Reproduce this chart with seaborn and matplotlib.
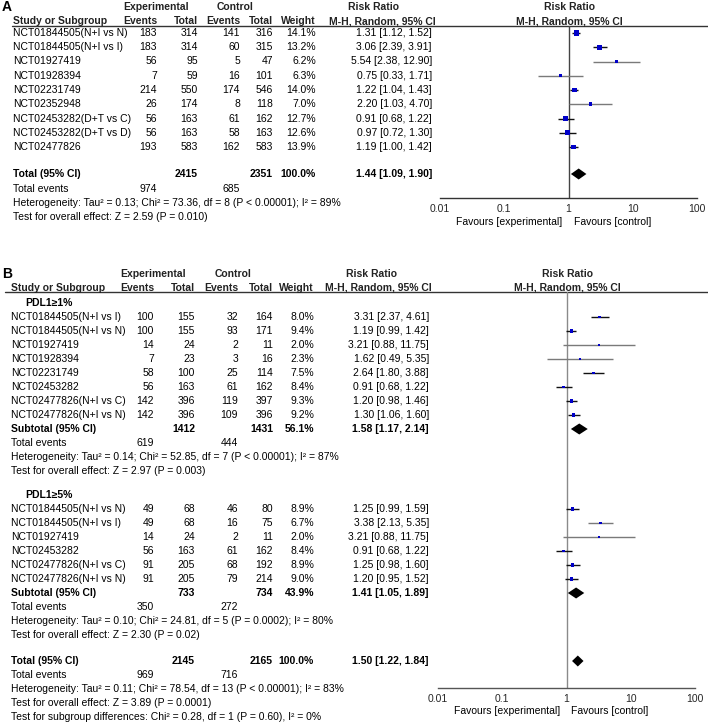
"""
Forest plots (risk ratio, M-H random effects) for two meta-analyses:
A = all patients, B = split by PD-L1 expression subgroup.
"""

import matplotlib
matplotlib.use("Agg")
import matplotlib.pyplot as plt
from matplotlib.ticker import NullLocator
import pandas as pd
import seaborn as sns

# ---------------- panel A data
a_study = ["NCT01844505(N+I vs N)", "NCT01844505(N+I vs I)", "NCT01927419",
           "NCT01928394", "NCT02231749", "NCT02352948",
           "NCT02453282(D+T vs C)", "NCT02453282(D+T vs D)", "NCT02477826"]
a_ev_e = [183, 183, 56, 7, 214, 26, 56, 56, 193]
a_tot_e = [314, 314, 95, 59, 550, 174, 163, 163, 583]
a_ev_c = [141, 60, 5, 16, 174, 8, 61, 58, 162]
a_tot_c = [316, 315, 47, 101, 546, 118, 162, 163, 583]
a_weight = [14.1, 13.2, 6.2, 6.3, 14.0, 7.0, 12.7, 12.6, 13.9]
a_rr = [1.31, 3.06, 5.54, 0.75, 1.22, 2.20, 0.91, 0.97, 1.19]
a_lo = [1.12, 2.39, 2.38, 0.33, 1.04, 1.03, 0.68, 0.72, 1.00]
a_hi = [1.52, 3.91, 12.90, 1.71, 1.43, 4.70, 1.22, 1.30, 1.42]
a_total = [2415, 2351, 100.0, 1.44, 1.09, 1.90]
a_events = [974, 685]
a_het = "Heterogeneity: Tau² = 0.13; Chi² = 73.36, df = 8 (P < 0.00001); I² = 89%"
a_test = "Test for overall effect: Z = 2.59 (P = 0.010)"

# ---------------- panel B data, PD-L1 >= 1%
b1_study = ["NCT01844505(N+I vs I)", "NCT01844505(N+I vs N)", "NCT01927419",
            "NCT01928394", "NCT02231749", "NCT02453282",
            "NCT02477826(N+I vs C)", "NCT02477826(N+I vs N)"]
b1_ev_e = [100, 100, 14, 7, 58, 56, 142, 142]
b1_tot_e = [155, 155, 24, 23, 100, 163, 396, 396]
b1_ev_c = [32, 93, 2, 3, 25, 61, 119, 109]
b1_tot_c = [164, 171, 11, 16, 114, 162, 397, 396]
b1_weight = [8.0, 9.4, 2.0, 2.3, 7.5, 8.4, 9.3, 9.2]
b1_rr = [3.31, 1.19, 3.21, 1.62, 2.64, 0.91, 1.20, 1.30]
b1_lo = [2.37, 0.99, 0.88, 0.49, 1.80, 0.68, 0.98, 1.06]
b1_hi = [4.61, 1.42, 11.75, 5.35, 3.88, 1.22, 1.46, 1.60]
b1_total = [1412, 1431, 56.1, 1.58, 1.17, 2.14]
b1_events = [619, 444]
b1_het = "Heterogeneity: Tau² = 0.14; Chi² = 52.85, df = 7 (P < 0.00001); I² = 87%"
b1_test = "Test for overall effect: Z = 2.97 (P = 0.003)"

# ---------------- panel B data, PD-L1 >= 5%
b5_study = ["NCT01844505(N+I vs N)", "NCT01844505(N+I vs I)", "NCT01927419",
            "NCT02453282", "NCT02477826(N+I vs C)", "NCT02477826(N+I vs N)"]
b5_ev_e = [49, 49, 14, 56, 91, 91]
b5_tot_e = [68, 68, 24, 163, 205, 205]
b5_ev_c = [46, 16, 2, 61, 68, 79]
b5_tot_c = [80, 75, 11, 162, 192, 214]
b5_weight = [8.9, 6.7, 2.0, 8.4, 8.9, 9.0]
b5_rr = [1.25, 3.38, 3.21, 0.91, 1.25, 1.20]
b5_lo = [0.99, 2.13, 0.88, 0.68, 0.98, 0.95]
b5_hi = [1.59, 5.35, 11.75, 1.22, 1.60, 1.52]
b5_total = [733, 734, 43.9, 1.41, 1.05, 1.89]
b5_events = [350, 272]
b5_het = "Heterogeneity: Tau² = 0.10; Chi² = 24.81, df = 5 (P = 0.0002); I² = 80%"
b5_test = "Test for overall effect: Z = 2.30 (P = 0.02)"

# ---------------- panel B overall
b_total = [2145, 2165, 100.0, 1.50, 1.22, 1.84]
b_events = [969, 716]
b_het = "Heterogeneity: Tau² = 0.11; Chi² = 78.54, df = 13 (P < 0.00001); I² = 83%"
b_test = "Test for overall effect: Z = 3.89 (P = 0.0001)"
b_subgroup = "Test for subgroup differences: Chi² = 0.28, df = 1 (P = 0.60), I² = 0%"

ticks = [0.01, 0.1, 1, 10, 100]
tick_labels = ["0.01", "0.1", "1", "10", "100"]

W, H = 708, 724
FS = 7.5
BLUE = "#0000c8"


def ci_text(rr, lo, hi):
    return f"{rr:.2f} [{lo:.2f}, {hi:.2f}]"


def put(tx, x, y, s, ha="left", bold=False, size=FS, color="black"):
    tx.text(x, y, s, ha=ha, va="center", fontsize=size, color=color,
            fontweight="bold" if bold else "normal")


def draw_header(tx, lay):
    """Two header lines plus the rule under them"""
    c = lay["cols"]
    y1, y2 = lay["h1"], lay["h2"]
    put(tx, lay["hx"][0], y1, "Experimental", ha="center", bold=True, color="#222")
    put(tx, lay["hx"][1], y1, "Control", ha="center", bold=True, color="#222")
    put(tx, lay["hx"][2], y1, "Risk Ratio", ha="center", bold=True, color="#222")
    put(tx, lay["hx"][4], y1, "Risk Ratio", ha="center", bold=True, color="#222")
    put(tx, lay["left"], y2, "Study or Subgroup", bold=True, color="#222")
    for x, s in zip(c[:5], ["Events", "Total", "Events", "Total", "Weight"]):
        put(tx, x, y2, s, ha="right", bold=True, color="#222")
    put(tx, lay["hx"][3], y2, "M-H, Random, 95% CI", ha="center", bold=True, color="#222")
    put(tx, lay["hx"][4], y2, "M-H, Random, 95% CI", ha="center", bold=True, color="#222")
    tx.plot([lay["rule_x0"], W], [lay["rule"], lay["rule"]], color="#333", lw=1.0)


def draw_studies(tx, ax, lay, ys, study, ev_e, tot_e, ev_c, tot_c, weight,
                 rr, lo, hi, smax, wmax):
    c = lay["cols"]
    for i, y in enumerate(ys):
        put(tx, lay["left"], y, study[i])
        put(tx, c[0], y, str(ev_e[i]), ha="right")
        put(tx, c[1], y, str(tot_e[i]), ha="right")
        put(tx, c[2], y, str(ev_c[i]), ha="right")
        put(tx, c[3], y, str(tot_c[i]), ha="right")
        put(tx, c[4], y, f"{weight[i]:.1f}%", ha="right")
        put(tx, c[5], y, ci_text(rr[i], lo[i], hi[i]), ha="right")
        col = "#7a7a7a" if weight[i] < 7.2 else "#111111"
        ax.hlines(y, lo[i], hi[i], color=col, lw=1.0, zorder=2)
    df = pd.DataFrame({"rr": rr, "y": ys, "w": weight})
    sns.scatterplot(data=df, x="rr", y="y", size="w", sizes=(0, smax),
                    size_norm=(0, wmax), marker="s", color=BLUE, linewidth=0,
                    legend=False, ax=ax, zorder=3)
    ax.set_xlabel("")
    ax.set_ylabel("")


def draw_pooled(tx, ax, lay, y, tot, label):
    c = lay["cols"]
    put(tx, lay["left"], y, label, bold=True)
    put(tx, c[1], y, str(tot[0]), ha="right", bold=True)
    put(tx, c[3], y, str(tot[1]), ha="right", bold=True)
    put(tx, c[4], y, f"{tot[2]:.1f}%", ha="right", bold=True)
    put(tx, c[5], y, ci_text(tot[3], tot[4], tot[5]), ha="right", bold=True)
    ax.fill([tot[4], tot[3], tot[5], tot[3]], [y, y - 5.5, y, y + 5.5],
            color="black", lw=0, zorder=3)


def draw_summary(tx, lay, ys, events, het, test):
    c = lay["cols"]
    put(tx, lay["left"], ys[0], "Total events")
    put(tx, c[0], ys[0], str(events[0]), ha="right")
    put(tx, c[2], ys[0], str(events[1]), ha="right")
    put(tx, lay["left"], ys[1], het)
    put(tx, lay["left"], ys[2], test)


def forest_axes(fig, x0, x1, top, bottom, vcolor, acolor, fav_y):
    ax = fig.add_axes([x0 / W, 1 - bottom / H, (x1 - x0) / W, (bottom - top) / H])
    ax.set_xscale("log")
    ax.set_xlim(0.01, 100)
    ax.set_ylim(bottom, top)
    ax.patch.set_alpha(0)
    for side in ["left", "right", "top"]:
        ax.spines[side].set_visible(False)
    ax.spines["bottom"].set_color(acolor)
    ax.spines["bottom"].set_linewidth(1.0)
    ax.set_xticks(ticks)
    ax.set_xticklabels(tick_labels)
    ax.xaxis.set_minor_locator(NullLocator())
    ax.set_yticks([])
    ax.tick_params(axis="x", direction="inout", length=5, width=1.0,
                   color=acolor, labelsize=FS, pad=2)
    ax.axvline(1, color=vcolor, lw=1.0, zorder=1)
    return ax


sns.set_theme(style="white")
plt.rcParams["font.family"] = ["Liberation Sans", "DejaVu Sans"]

fig = plt.figure(figsize=(W / 100, H / 100), dpi=100)
tx = fig.add_axes([0, 0, 1, 1])
tx.set_xlim(0, W)
tx.set_ylim(H, 0)
tx.axis("off")

# ---------------- panel A
lay_a = dict(left=13, cols=[157, 198, 240, 273, 316, 432],
             hx=[156, 235, 374, 382, 569], h1=7, h2=21, rule=26, rule_x0=12)
ax_a = forest_axes(fig, 440, 697, 26, 198, "#444", "#333", 222)
put(tx, 2, 7, "A", bold=True, size=10)
draw_header(tx, lay_a)
ys_a = [33 + 14.25 * i for i in range(len(a_study))]
draw_studies(tx, ax_a, lay_a, ys_a, a_study, a_ev_e, a_tot_e, a_ev_c, a_tot_c,
             a_weight, a_rr, a_lo, a_hi, 13, 14.1)
draw_pooled(tx, ax_a, lay_a, 174, a_total, "Total (95% CI)")
draw_summary(tx, lay_a, [189, 203, 217], a_events, a_het, a_test)
put(tx, 562, 222, "Favours [experimental]", ha="right")
put(tx, 574, 222, "Favours [control]")

# ---------------- panel B
lay_b = dict(left=11, cols=[154, 195, 238, 273, 314, 429],
             hx=[153, 233, 371, 378, 567], h1=274, h2=288, rule=292, rule_x0=5)
ax_b = forest_axes(fig, 438, 695, 292, 688, "#8a8a8a", "#555", 711)
put(tx, 2, 274, "B", bold=True, size=10)
draw_header(tx, lay_b)

put(tx, 25, 303, "PDL1≥1%", bold=True)
ys_b1 = [317 + 14 * i for i in range(len(b1_study))]
draw_studies(tx, ax_b, lay_b, ys_b1, b1_study, b1_ev_e, b1_tot_e, b1_ev_c,
             b1_tot_c, b1_weight, b1_rr, b1_lo, b1_hi, 5, 9.4)
draw_pooled(tx, ax_b, lay_b, 429, b1_total, "Subtotal (95% CI)")
draw_summary(tx, lay_b, [443, 457, 471], b1_events, b1_het, b1_test)

put(tx, 25, 495, "PDL1≥5%", bold=True)
ys_b5 = [509 + 14 * i for i in range(len(b5_study))]
draw_studies(tx, ax_b, lay_b, ys_b5, b5_study, b5_ev_e, b5_tot_e, b5_ev_c,
             b5_tot_c, b5_weight, b5_rr, b5_lo, b5_hi, 5, 9.4)
draw_pooled(tx, ax_b, lay_b, 593, b5_total, "Subtotal (95% CI)")
draw_summary(tx, lay_b, [607, 621, 635], b5_events, b5_het, b5_test)

draw_pooled(tx, ax_b, lay_b, 661, b_total, "Total (95% CI)")
draw_summary(tx, lay_b, [675, 689, 703], b_events, b_het, b_test)
put(tx, lay_b["left"], 717, b_subgroup)
put(tx, 560, 711, "Favours [experimental]", ha="right")
put(tx, 571, 711, "Favours [control]")

fig.savefig("out.png", dpi=100)
